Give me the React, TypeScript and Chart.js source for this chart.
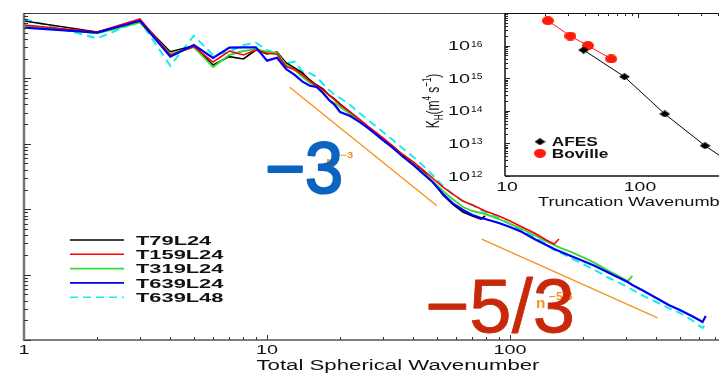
import React, { useEffect, useRef } from "react";
import { Chart, registerables } from "chart.js";

Chart.register(...registerables);

// ---- Main panel: kinetic energy spectra vs total spherical wavenumber ----
const wavenumbers = [
  1, 2, 3, 4, 5, 6, 7, 8, 9, 10, 11, 12, 13, 14, 15, 16, 17, 18, 19, 20,
  22, 24, 26, 28, 30, 33, 36, 40, 44, 48, 53, 58, 64, 70, 76, 79,
  90, 100, 112, 126, 141, 152, 159, 178, 200, 224, 251, 282, 305, 319,
  355, 400, 450, 500, 560, 600, 620, 639,
];

const energyT79L24 = [
  7.55, 5.12, 7.55, 2.56, 3.13, 1.6, 2.15, 1.98, 2.72, 2.36, 2.53, 1.72, 1.44, 1.21, 0.946, 0.792, 0.689, 0.557, 0.484, 0.406,
  0.306, 0.231, 0.181, 0.146, 0.118, 0.0893, 0.0675, 0.0491, 0.0371, 0.027, 0.0165, 0.012, 0.00906, 0.00787, 0.00708, 0.00787,
];

const energyT159L24 = [
  6.55, 5.12, 8.09, 2.28, 3.05, 1.78, 2.62, 2.28, 2.72, 2.42, 2.34, 1.51, 1.38, 1.13, 0.912, 0.765, 0.665, 0.557, 0.468, 0.392,
  0.306, 0.239, 0.187, 0.151, 0.123, 0.0925, 0.0698, 0.0527, 0.0397, 0.03, 0.0218, 0.0171, 0.0133, 0.0116, 0.0101, 0.00938,
  0.00787, 0.0066, 0.00534, 0.00432, 0.00338, 0.00294, 0.0035,
];

const energyT319L24 = [
  6.44, 4.89, 7.11, 2.36, 3.02, 1.49, 2.28, 2.62, 2.79, 2.56, 2.44, 1.6, 1.34, 1.05, 0.86, 0.739, 0.62, 0.468, 0.421, 0.365,
  0.286, 0.223, 0.175, 0.141, 0.114, 0.0863, 0.0651, 0.0474, 0.0358, 0.027, 0.019, 0.0143, 0.0108, 0.00938, 0.00875, 0.00845,
  0.00708, 0.00594, 0.00498, 0.00403, 0.00321, 0.00284, 0.0026, 0.00222, 0.00183, 0.0015, 0.00117, 0.000935, 0.000798, 0.000953,
];

const energyT639L24 = [
  5.96, 5.03, 7.62, 2.15, 3.24, 2.05, 2.95, 2.99, 2.99, 1.87, 2.07, 1.38, 1.13, 0.891, 0.773, 0.739, 0.598, 0.468, 0.392, 0.306,
  0.266, 0.216, 0.175, 0.141, 0.114, 0.0863, 0.0651, 0.0474, 0.0345, 0.0261, 0.0171, 0.0124, 0.00972, 0.00815, 0.00733, 0.00708,
  0.00615, 0.00534, 0.00448, 0.0035, 0.00284, 0.00247, 0.0023, 0.00193, 0.00161, 0.00135, 0.0011, 0.000887, 0.000771, 0.000694,
  0.000562, 0.000439, 0.000343, 0.000288, 0.000233, 0.000202, 0.000188, 0.000233,
];

const energyT639L48 = [
  8.01, 4.1, 7.62, 1.56, 4.5, 2.28, 2.56, 3.24, 3.51, 2.72, 2.36, 1.7, 1.8, 1.27, 1.2, 1.06, 0.821, 0.665, 0.557, 0.501,
  0.392, 0.296, 0.231, 0.187, 0.151, 0.114, 0.0863, 0.0629, 0.0458, 0.0333, 0.0226, 0.0171, 0.0133, 0.0116, 0.00972, 0.00906,
  0.00733, 0.00594, 0.00464, 0.00376, 0.00294, 0.00238, 0.00222, 0.00179, 0.00145, 0.00117, 0.000919, 0.000745, 0.000646, 0.000582,
  0.000471, 0.000381, 0.000308, 0.000259, 0.000202, 0.000164, 0.000153, 0.000176,
];

const seriesLabels = ["T79L24", "T159L24", "T319L24", "T639L24", "T639L48"];
const seriesColors = ["#000000", "#ff0000", "#36d936", "#0000f5", "#14ecf0"];

// Reference slopes n^-3 and n^-5/3
const steepRefN = [12.4, 50];
const steepRefE = [0.731, 0.0113];
const shallowRefN = [76.5, 405];
const shallowRefE = [0.0035, 0.000218];

const xTickValues = [1, 10, 100];
const xTickLabels = ["1", "10", "100"];

// ---- Inset: horizontal diffusion coefficient vs truncation ----
const afesTrunc = [39, 79, 159, 319, 639];
const afesKh = [7.3e15, 1.11e15, 8.0e13, 8.5e12, 1.26e12];
const bovilleTrunc = [21, 31, 42, 63];
const bovilleKh = [5.8e16, 1.97e16, 1.0e16, 3.9e15];
const insetYExponents = [12, 13, 14, 15, 16];
const insetXTickValues = [10, 100];
const insetXTickLabels = ["10", "100"];

const SANS = "'Liberation Sans', Arial, sans-serif";
const ORANGE = "#f7931e";
const INSET_LEFT = 420;

type Align = "left" | "center" | "right";

function stretchText(
  ctx: CanvasRenderingContext2D,
  text: string,
  x: number,
  y: number,
  font: string,
  color: string,
  sx: number,
  align: Align = "left",
  outline = 0
) {
  ctx.save();
  ctx.font = font;
  ctx.fillStyle = color;
  ctx.textBaseline = "alphabetic";
  ctx.textAlign = "left";
  const w = ctx.measureText(text).width * sx;
  const left = align === "center" ? x - w / 2 : align === "right" ? x - w : x;
  ctx.translate(left, y);
  ctx.scale(sx, 1);
  ctx.fillText(text, 0, 0);
  if (outline > 0) {
    ctx.strokeStyle = color;
    ctx.lineWidth = outline;
    ctx.lineJoin = "round";
    ctx.strokeText(text, 0, 0);
  }
  ctx.restore();
  return w;
}

function fitText(
  ctx: CanvasRenderingContext2D,
  text: string,
  x: number,
  y: number,
  font: string,
  color: string,
  width: number,
  align: Align = "left",
  outline = 0
) {
  ctx.save();
  ctx.font = font;
  const w = ctx.measureText(text).width;
  ctx.restore();
  return stretchText(ctx, text, x, y, font, color, width / w, align, outline);
}

function line(ctx: CanvasRenderingContext2D, x1: number, y1: number, x2: number, y2: number) {
  ctx.beginPath();
  ctx.moveTo(x1, y1);
  ctx.lineTo(x2, y2);
  ctx.stroke();
}

function toPoints(xs: number[], ys: number[]) {
  return ys.map((y, i) => ({ x: xs[i], y }));
}

// Marker images: the figure's markers are slightly wider than tall
function makeEllipse(w: number, h: number, color: string) {
  const c = document.createElement("canvas");
  c.width = w;
  c.height = h;
  const g = c.getContext("2d")!;
  g.fillStyle = color;
  g.beginPath();
  g.ellipse(w / 2, h / 2, w / 2, h / 2, 0, 0, Math.PI * 2);
  g.fill();
  return c;
}
function makeDiamond(w: number, h: number, color: string) {
  const c = document.createElement("canvas");
  c.width = w;
  c.height = h;
  const g = c.getContext("2d")!;
  g.fillStyle = color;
  g.beginPath();
  g.moveTo(w / 2, 0);
  g.lineTo(w, h / 2);
  g.lineTo(w / 2, h);
  g.lineTo(0, h / 2);
  g.closePath();
  g.fill();
  return c;
}

const mainDecor = {
  id: "mainDecor",
  afterDraw(chart: any) {
    const { ctx, chartArea: a } = chart;
    const xs = chart.scales.x;
    const ys = chart.scales.y;
    ctx.save();

    // frame
    ctx.strokeStyle = "#444";
    ctx.lineWidth = 1;
    line(ctx, a.left, a.top + 0.5, a.right, a.top + 0.5);
    ctx.strokeStyle = "#555";
    ctx.lineWidth = 1.5;
    line(ctx, a.left, a.bottom, a.right, a.bottom);
    ctx.strokeStyle = "#777";
    ctx.lineWidth = 2.5;
    line(ctx, a.left, a.top, a.left, a.bottom + 1);

    // inward ticks
    ctx.strokeStyle = "#333";
    ctx.lineWidth = 1;
    for (let d = 0; d < 3; d++) {
      for (let k = 1; k <= 9; k++) {
        if (k === 1 && d === 0) continue;
        const px = Math.round(xs.getPixelForValue(k * Math.pow(10, d))) + 0.5;
        line(ctx, px, a.bottom, px, a.bottom - (k === 1 ? 5 : 3));
      }
    }
    for (let d = -4; d <= 1; d++) {
      for (let k = 1; k <= 9; k++) {
        const v = k * Math.pow(10, d);
        if (v > ys.max * 1.001) break;
        const py = Math.round(ys.getPixelForValue(v)) + 0.5;
        line(ctx, a.left, py, a.left + (k === 1 ? 7 : 4), py);
      }
    }

    // tick labels and axis title
    xTickValues.forEach((v, i) => {
      stretchText(ctx, xTickLabels[i], xs.getPixelForValue(v), 354, `12px ${SANS}`, "#111", 1.65, "center");
    });
    fitText(ctx, "Total Spherical Wavenumber", 256.5, 370, `14px ${SANS}`, "#111", 283);

    // legend
    seriesLabels.forEach((label, i) => {
      const yy = 240 + i * 14.3;
      ctx.strokeStyle = seriesColors[i];
      ctx.lineWidth = 1.6;
      ctx.setLineDash(i === 4 ? [8, 5] : []);
      line(ctx, 70, yy, 124, yy);
      ctx.setLineDash([]);
      stretchText(ctx, label, 136, yy + 4.6, `bold 13px ${SANS}`, "#111", 1.68);
    });

    // slope annotations
    stretchText(ctx, "n", 326, 167, `bold 14px ${SANS}`, ORANGE, 1.1);
    stretchText(ctx, "\u22123", 340, 158, `bold 9px ${SANS}`, ORANGE, 1.3);
    fitText(ctx, "\u22123", 265, 193, `72px ${SANS}`, "#0a64c0", 78, "left", 2.2);

    stretchText(ctx, "n", 536, 308, `bold 14px ${SANS}`, ORANGE, 1.1);
    stretchText(ctx, "\u22125/3", 549, 300, `bold 10px ${SANS}`, ORANGE, 1.2);
    fitText(ctx, "\u22125/3", 425, 332, `76px ${SANS}`, "#c8290a", 150, "left", 0.8);

    ctx.restore();
  },
};

const insetDecor = {
  id: "insetDecor",
  beforeDatasetsDraw(chart: any) {
    const { ctx, chartArea: a } = chart;
    ctx.save();
    ctx.fillStyle = "#ffffff";
    ctx.fillRect(a.left, a.top, a.right - a.left, a.bottom - a.top);
    ctx.restore();
  },
  afterDraw(chart: any) {
    const { ctx, chartArea: a } = chart;
    const xs = chart.scales.x;
    const ys = chart.scales.y;
    ctx.save();

    // frame and inward ticks (local canvas coordinates)
    ctx.strokeStyle = "#111";
    ctx.lineWidth = 1.5;
    line(ctx, a.left, a.top, a.left, a.bottom);
    line(ctx, a.left, a.bottom, a.right, a.bottom);
    ctx.lineWidth = 1;
    line(ctx, a.left, a.top + 0.5, a.right, a.top + 0.5);

    ctx.strokeStyle = "#222";
    for (let d = 12; d <= 17; d++) {
      for (let k = 1; k <= 9; k++) {
        const v = k * Math.pow(10, d);
        if (v > ys.max * 1.001) break;
        const py = Math.round(ys.getPixelForValue(v)) + 0.5;
        line(ctx, a.left, py, a.left + (k === 1 ? 5 : 3), py);
      }
    }
    for (let d = 1; d <= 2; d++) {
      for (let k = 1; k <= 9; k++) {
        const px = Math.round(xs.getPixelForValue(k * Math.pow(10, d))) + 0.5;
        line(ctx, px, a.top, px, a.top + (k === 1 ? 5 : 3));
      }
    }

    // the rest is laid out in page coordinates
    ctx.translate(-INSET_LEFT, 0);
    const L = INSET_LEFT;

    insetYExponents.forEach((e) => {
      const py = ys.getPixelForValue(Math.pow(10, e));
      stretchText(ctx, "10", 470, py + 4.5, `12px ${SANS}`, "#111", 1.65, "right");
      stretchText(ctx, String(e), 471, py + 1, `9px ${SANS}`, "#111", 1.15);
    });

    insetXTickValues.forEach((v, i) => {
      stretchText(ctx, insetXTickLabels[i], xs.getPixelForValue(v) + L + 2, 190.5, `12px ${SANS}`, "#111", 1.62, "center");
    });
    stretchText(ctx, "Truncation Wavenumber", 538, 206, `13px ${SANS}`, "#111", 1.4);

    // rotated y title: K_H (m^4 s^-1)
    ctx.save();
    ctx.translate(439, 101);
    ctx.rotate(-Math.PI / 2);
    ctx.scale(1, 1.6);
    ctx.fillStyle = "#111";
    ctx.textBaseline = "alphabetic";
    const parts = [
      { t: "K", f: `12px ${SANS}`, dy: 0 },
      { t: "H", f: `8px ${SANS}`, dy: 2.5 },
      { t: "(m", f: `12px ${SANS}`, dy: 0 },
      { t: "4", f: `8px ${SANS}`, dy: -5 },
      { t: " s", f: `12px ${SANS}`, dy: 0 },
      { t: "\u22121", f: `8px ${SANS}`, dy: -5 },
      { t: ")", f: `12px ${SANS}`, dy: 0 },
    ];
    let total = 0;
    parts.forEach((p) => {
      ctx.font = p.f;
      total += ctx.measureText(p.t).width;
    });
    let cx = -total / 2;
    parts.forEach((p) => {
      ctx.font = p.f;
      ctx.fillText(p.t, cx, p.dy);
      cx += ctx.measureText(p.t).width;
    });
    ctx.restore();

    // legend
    const ds = chart.data.datasets;
    ctx.drawImage(ds[0].pointStyle, 540 - 5.5, 141.7 - 3.5);
    stretchText(ctx, ds[0].label, 551.7, 146.2, `bold 13px ${SANS}`, "#111", 1.33);
    ctx.drawImage(ds[1].pointStyle, 540 - 6, 153.3 - 4.5);
    stretchText(ctx, ds[1].label, 551.7, 157.8, `bold 13px ${SANS}`, "#111", 1.33);
    ctx.restore();
  },
};

export default function App() {
  const mainRef = useRef<HTMLCanvasElement>(null);
  const insetRef = useRef<HTMLCanvasElement>(null);

  useEffect(() => {
    const series = [energyT79L24, energyT159L24, energyT319L24, energyT639L24, energyT639L48];
    const drawOrder = [4, 2, 3, 1, 5];
    const widths = [1.6, 1.6, 1.9, 2.2, 2];

    const datasets: any[] = series.map((vals, i) => ({
      label: seriesLabels[i],
      data: toPoints(wavenumbers, vals),
      borderColor: seriesColors[i],
      borderWidth: widths[i],
      borderDash: i === 4 ? [8, 5] : [],
      pointRadius: 0,
      fill: false,
      tension: 0,
      order: drawOrder[i],
    }));
    datasets.push(
      {
        label: "n^-3",
        data: toPoints(steepRefN, steepRefE),
        borderColor: ORANGE,
        borderWidth: 1.4,
        pointRadius: 0,
        order: 6,
      },
      {
        label: "n^-5/3",
        data: toPoints(shallowRefN, shallowRefE),
        borderColor: ORANGE,
        borderWidth: 1.4,
        pointRadius: 0,
        order: 6,
      }
    );

    const main = new Chart(mainRef.current!, {
      type: "line",
      data: { datasets },
      options: {
        animation: false,
        responsive: false,
        devicePixelRatio: 1,
        events: [],
        layout: { padding: { left: 24, top: 13, right: 27, bottom: 33 } },
        plugins: { legend: { display: false }, tooltip: { enabled: false } },
        scales: {
          x: { type: "logarithmic", min: 1, max: 1000, display: false },
          y: { type: "logarithmic", min: 1e-4, max: 10, display: false },
        },
      },
      plugins: [mainDecor],
    } as any);

    const diamond = makeDiamond(11, 7, "#000000");
    const ellipse = makeEllipse(12, 9, "#ff1a0a");

    const inset = new Chart(insetRef.current!, {
      type: "line",
      data: {
        datasets: [
          {
            label: "AFES",
            data: toPoints(afesTrunc, afesKh),
            borderColor: "#000000",
            borderWidth: 1,
            pointStyle: diamond,
            pointRadius: 5,
            tension: 0,
          },
          {
            label: "Boville",
            data: toPoints(bovilleTrunc, bovilleKh),
            borderColor: "#ff1a0a",
            borderWidth: 1,
            pointStyle: ellipse,
            pointRadius: 6,
            tension: 0,
          },
        ],
      },
      options: {
        animation: false,
        responsive: false,
        devicePixelRatio: 1,
        events: [],
        layout: { padding: { left: 85, top: 13, right: 49, bottom: 39 } },
        plugins: { legend: { display: false }, tooltip: { enabled: false } },
        scales: {
          x: { type: "logarithmic", min: 10, max: 1000, display: false },
          y: { type: "logarithmic", min: 1e12, max: 1e17, display: false },
        },
      },
      plugins: [insetDecor],
    } as any);

    return () => {
      main.destroy();
      inset.destroy();
    };
  }, []);

  return (
    <div
      style={{
        position: "fixed",
        left: 0,
        top: 0,
        width: 719,
        height: 373,
        overflow: "hidden",
        background: "#ffffff",
      }}
    >
      <canvas
        ref={mainRef}
        width={780}
        height={373}
        style={{ position: "absolute", left: 0, top: 0, width: 780, height: 373 }}
      />
      <canvas
        ref={insetRef}
        width={400}
        height={215}
        style={{ position: "absolute", left: INSET_LEFT, top: 0, width: 400, height: 215 }}
      />
    </div>
  );
}
